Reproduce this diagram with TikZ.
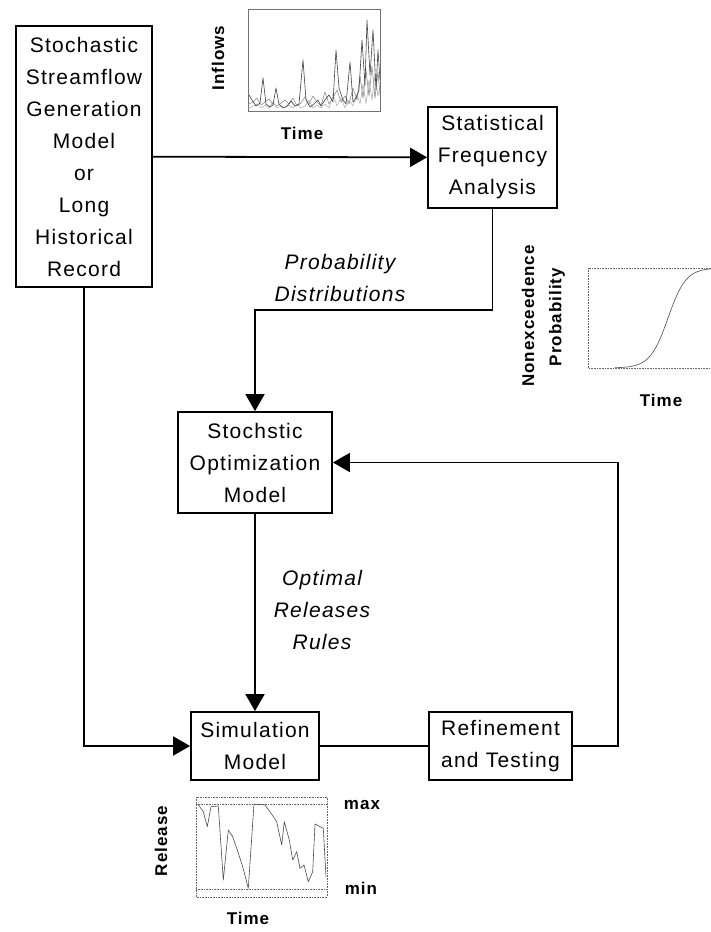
\documentclass[tikz,border=0pt]{standalone}
\usepackage{fontspec}
\setmainfont{Liberation Sans}[LetterSpace=6]
\usepackage{tikz}
\usetikzlibrary{arrows.meta,positioning}
\newcommand{\boxfont}{\fontsize{21}{32}\selectfont}
\newcommand{\chartfont}{\fontsize{17}{20}\selectfont\bfseries}
\tikzset{
  box/.style={
    draw,
    line width=1.8pt,
    align=center,
    inner sep=0pt,
    font=\boxfont
  },
  flowlabel/.style={
    align=center,
    inner sep=0pt,
    font=\boxfont\itshape
  },
  axislabel/.style={
    inner sep=0pt,
    font=\chartfont
  },
  frame/.style={draw=black!55, line width=0.6pt},
  dotframe/.style={draw=black!60, line width=0.6pt, densely dotted},
  series/.style={line width=0.6pt, line join=round},
  line/.style={draw, line width=1.8pt},
  arr/.style={draw, line width=1.8pt, -{Triangle[length=17pt,width=19pt]}},
  every edge/.style={draw, line width=1.8pt}
}

\begin{document}
\begin{tikzpicture}[x=1pt,y=-1pt]
  \useasboundingbox (0,0) rectangle (711,932);

  % blocks
  \node[box, minimum width=136pt, minimum height=261pt] (source) at (84,156.5)
    {Stochastic\\Streamflow\\Generation\\Model\\or\\Long\\Historical\\Record};
  \node[box, minimum width=129pt, minimum height=101pt] (freq) at (492.5,157.5)
    {Statistical\\Frequency\\Analysis};
  \node[box, minimum width=154pt, minimum height=101pt] (optim) at (255,462.5)
    {Stochstic\\Optimization\\Model};
  \node[box, minimum width=128pt, minimum height=68pt] (sim) at (255,746)
    {Simulation\\Model};
  \node[box, minimum width=143pt, minimum height=68pt] (refine) at (500.5,746)
    {Refinement\\and Testing};

  \node[flowlabel] (problabel) at (340,278) {Probability\\Distributions};
  \node[flowlabel] (rulelabel) at (322,610) {Optimal\\Releases\\Rules};

  \coordinate (probturn) at (0,310);
  \coordinate (loopx) at (618,0);

  % connectors
  \draw[arr] (source) -- (freq);
  \draw[arr] (freq.south) |- (probturn -| optim.north) -- (optim.north);
  \draw[arr] (optim) -- (sim);
  \draw[arr] (source.south) |- (sim.west);
  \path (sim) edge (refine);
  \draw[arr] (refine.east) -| (loopx |- optim.east) -- (optim.east);

  % inflows chart
  \draw[frame] (248,9) rectangle (380,111);
  \draw[series, black!45] plot coordinates {(249,104) (253,102) (257,98) (261,105) (265,102) (269,99) (273,104) (277,106) (281,103) (285,100) (289,104) (293,98) (297,106) (301,103) (305,97) (309,104) (313,96) (317,102) (321,106) (325,92) (329,104) (333,98) (337,90) (341,102) (345,96) (349,104) (353,88) (357,100) (360,76) (363,98) (366,70) (369,96) (372,66) (375,98) (378,72) (380,94)};
  \draw[series, black!30] plot coordinates {(249,108) (253,106) (257,104) (261,108) (265,105) (269,108) (273,102) (277,108) (281,106) (285,108) (289,105) (293,108) (297,104) (301,108) (305,106) (309,100) (313,108) (317,105) (321,108) (325,104) (329,108) (333,94) (337,106) (341,98) (345,108) (349,100) (353,106) (357,94) (360,104) (363,84) (366,104) (369,80) (372,100) (375,74) (378,96) (380,88)};
  \draw[series, black!75] plot coordinates {(249,95) (252,100) (256,106) (260,103) (263,78) (266,104) (270,107) (273,105) (276,88) (279,104) (283,108) (287,106) (291,101) (295,106) (299,104) (303,60) (306,100) (310,107) (314,104) (318,100) (321,106) (325,100) (329,95) (333,102) (336,50) (339,88) (343,100) (346,104) (350,62) (353,102) (356,98) (359,90) (362,40) (365,85) (367,20) (370,75) (373,30) (376,90) (378,50) (380,80)};
  \node[axislabel, rotate=90] (inflowsy) at (218,58) {Inflows};
  \node[axislabel] (inflowsx) at (302,133) {Time};

  % nonexceedence chart
  \draw[dotframe] (711,268) -- (588,268) -- (588,368) -- (711,368);
  \draw[series, black!70] plot[domain=615:711, samples=60] (\x, {368-100/(1+exp(-(\x-668)/9))});
  \node[axislabel, rotate=90] (nonexc) at (528,316) {Nonexceedence};
  \node[axislabel, rotate=90] (probaxis) at (557,317) {Probability};
  \node[axislabel] (cdftime) at (661,400) {Time};

  % release chart
  \draw[dotframe] (196,797) rectangle (327,897);
  \draw[dotframe] (196,804) -- (327,804);
  \draw[dotframe] (196,889) -- (327,889);
  \draw[series, black!70] plot coordinates {(197.7,804) (203.3,811.7) (207.3,826.7) (211,806.7) (218.3,806) (223.3,880) (228.3,830) (232.7,836.7) (237.3,850) (242.7,866.7) (248.3,888.3) (254,804) (265,805) (270,811.7) (276.7,821.7) (281.7,845) (284.3,821.7) (289.3,840) (292.7,860) (296.7,851.7) (300,868.3) (304,865) (308.3,881.7) (312.7,871.7) (315,824) (320,826.7) (323.3,828.3) (326,876.7)};
  \node[axislabel, rotate=90] (releasey) at (161,841) {Release};
  \node[axislabel] (maxlabel) at (362,805) {max};
  \node[axislabel] (minlabel) at (361,888) {min};
  \node[axislabel] (releasex) at (248,918) {Time};
\end{tikzpicture}
\end{document}
